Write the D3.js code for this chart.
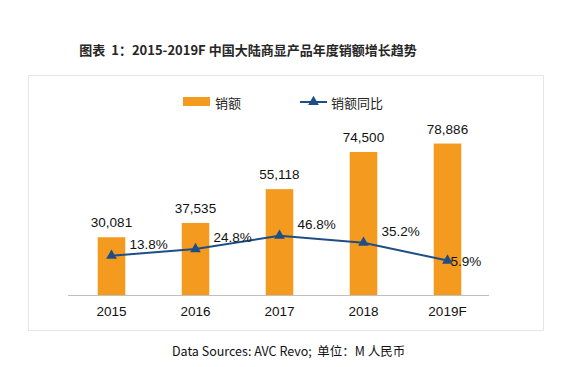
<!DOCTYPE html>
<html><head><meta charset="utf-8">
<script src="https://cdn.jsdelivr.net/npm/d3@7"></script>
<style>
html,body{margin:0;padding:0;background:#fff;}
svg{display:block;font-family:"Liberation Sans",Arial,"Noto Sans CJK SC",sans-serif;}
</style></head>
<body>
<svg id="c" width="581" height="367"></svg>
<script>
const categories = ["2015", "2016", "2017", "2018", "2019F"];
const sales = [30081, 37535, 55118, 74500, 78886];
const growth = [13.8, 24.8, 46.8, 35.2, 5.9];
const titleText = "图表  1：2015-2019F 中国大陆商显产品年度销额增长趋势";
const legendLabels = ["销额", "销额同比"];
const sourceText = "Data Sources: AVC Revo;  单位：M 人民币";

const svg = d3.select("#c");
const cjk = '"Noto Sans CJK SC","Liberation Sans",Arial,sans-serif';
const barColor = "#F39A1F", lineColor = "#1F4E86";

// frame
svg.append("rect").attr("x", 28.5).attr("y", 75.5).attr("width", 515).attr("height", 255)
  .attr("fill", "none").attr("stroke", "#e6e6e6").attr("stroke-width", 1);

// title
svg.append("text").attr("x", 248).attr("y", 55).attr("text-anchor", "middle")
  .style("font-family", cjk).style("font-size", "13px").style("font-weight", "bold")
  .style("white-space", "pre").attr("fill", "#262626").text(titleText);

const x = d3.scaleBand().domain(categories).range([69.5, 489.5]).paddingInner(0.672).paddingOuter(0.336);
const y = d3.scaleLinear().domain([0, 100000]).range([295, 103]);
const y2 = d3.scaleLinear().domain([0, 100]).range([264.1, 203.5]);

// bars
svg.append("g").selectAll("rect").data(categories).join("rect")
  .attr("x", d => x(d)).attr("width", x.bandwidth())
  .attr("y", (d, i) => y(sales[i])).attr("height", (d, i) => y(0) - y(sales[i]))
  .attr("fill", barColor);

// x axis
const xAxis = svg.append("g").attr("transform", "translate(0,295)")
  .call(d3.axisBottom(x).tickSize(0).tickPadding(11));
xAxis.select(".domain").attr("stroke", "#bfbfbf").attr("d", "M68,0.5H489");
xAxis.selectAll("text").style("font-size", "13.5px").attr("fill", "#111")
  .style("font-family", '"Liberation Sans",Arial,sans-serif');

// bar value labels
svg.append("g").selectAll("text").data(categories).join("text")
  .attr("x", d => x(d) + x.bandwidth() / 2)
  .attr("y", (d, i) => y(sales[i]) - 10)
  .attr("text-anchor", "middle").style("font-size", "13.5px").attr("fill", "#111")
  .text((d, i) => d3.format(",")(sales[i]));

// line
const cx = d => x(d) + x.bandwidth() / 2;
const line = d3.line().x((d, i) => cx(categories[i])).y(d => y2(d));
svg.append("path").datum(growth).attr("d", line).attr("fill", "none")
  .attr("stroke", lineColor).attr("stroke-width", 2);
const tri = d3.symbol().type(d3.symbolTriangle).size(50);
svg.append("g").selectAll("path").data(growth).join("path")
  .attr("d", tri)
  .attr("transform", (d, i) => `translate(${cx(categories[i])},${y2(d)})`)
  .attr("fill", lineColor);

// growth labels
svg.append("g").selectAll("text").data(growth).join("text")
  .attr("x", (d, i) => cx(categories[i]) + (i === growth.length - 1 ? 3 : 18))
  .attr("y", (d, i) => y2(d) + (i === growth.length - 1 ? 5 : -7))
  .style("font-size", "13.5px").attr("fill", "#111")
  .text(d => d.toFixed(1) + "%");

// legend
const lg = svg.append("g");
lg.append("rect").attr("x", 183).attr("y", 97).attr("width", 27).attr("height", 9).attr("fill", barColor);
lg.append("text").attr("x", 215).attr("y", 107.5).style("font-family", cjk).style("font-size", "13px")
  .attr("fill", "#222").text(legendLabels[0]);
lg.append("line").attr("x1", 300).attr("x2", 327).attr("y1", 102).attr("y2", 102)
  .attr("stroke", lineColor).attr("stroke-width", 2);
lg.append("path").attr("d", tri).attr("transform", "translate(313.5,102)").attr("fill", lineColor);
lg.append("text").attr("x", 331).attr("y", 107.5).style("font-family", cjk).style("font-size", "13px")
  .attr("fill", "#222").text(legendLabels[1]);

// source
svg.append("text").attr("x", 172).attr("y", 356).style("font-family", cjk).style("font-size", "12.5px")
  .style("white-space", "pre").attr("fill", "#111").text(sourceText);
</script>
</body></html>
